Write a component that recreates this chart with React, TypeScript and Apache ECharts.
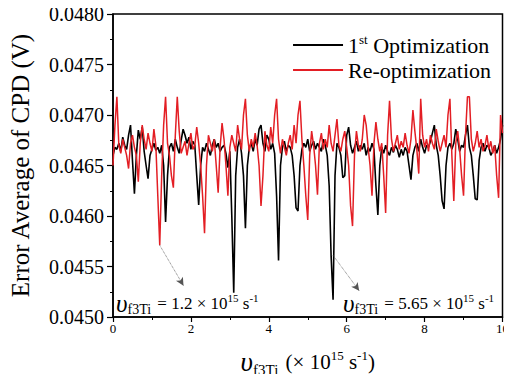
import React, { useEffect, useRef } from "react";
import * as echarts from "echarts";

// sampling of the frequency axis (×10^15 s^-1)
const X_START = 0;
const X_STEP = 0.05;

// 1st Optimization (V)
const firstOpt = [
  0.04660, 0.04668, 0.04666, 0.04672, 0.04664, 0.04678, 0.04670, 0.04666, 0.04680, 0.04690,
  0.04655, 0.04622, 0.04660, 0.04685, 0.04676, 0.04688, 0.04664, 0.04650, 0.04637, 0.04660,
  0.04666, 0.04672, 0.04665, 0.04668, 0.04662, 0.04670, 0.04650, 0.04594, 0.04640, 0.04668,
  0.04672, 0.04664, 0.04676, 0.04668, 0.04662, 0.04675, 0.04686, 0.04680, 0.04672, 0.04678,
  0.04666, 0.04674, 0.04670, 0.04640, 0.04611, 0.04650, 0.04668, 0.04664, 0.04672, 0.04666,
  0.04660, 0.04670, 0.04676, 0.04668, 0.04672, 0.04664, 0.04668, 0.04670, 0.04662, 0.04648,
  0.04664, 0.04600, 0.04524, 0.04640, 0.04668, 0.04676, 0.04662, 0.04640, 0.04588, 0.04650,
  0.04668, 0.04672, 0.04664, 0.04676, 0.04670, 0.04686, 0.04690, 0.04672, 0.04664, 0.04680,
  0.04676, 0.04666, 0.04672, 0.04662, 0.04620, 0.04556, 0.04650, 0.04668, 0.04674, 0.04664,
  0.04670, 0.04668, 0.04660, 0.04640, 0.04608, 0.04605, 0.04650, 0.04666, 0.04672, 0.04668,
  0.04676, 0.04664, 0.04670, 0.04674, 0.04666, 0.04672, 0.04668, 0.04664, 0.04676, 0.04670,
  0.04660, 0.04630, 0.04560, 0.04517, 0.04640, 0.04672, 0.04668, 0.04660, 0.04638, 0.04640,
  0.04680, 0.04688, 0.04670, 0.04662, 0.04668, 0.04674, 0.04664, 0.04670, 0.04666, 0.04672,
  0.04660, 0.04668, 0.04664, 0.04672, 0.04666, 0.04630, 0.04601, 0.04650, 0.04668, 0.04662,
  0.04670, 0.04664, 0.04660, 0.04668, 0.04663, 0.04670, 0.04666, 0.04658, 0.04666, 0.04660,
  0.04668, 0.04664, 0.04650, 0.04636, 0.04660, 0.04668, 0.04672, 0.04664, 0.04676, 0.04668,
  0.04662, 0.04670, 0.04668, 0.04674, 0.04682, 0.04690, 0.04670, 0.04660, 0.04640, 0.04615,
  0.04607, 0.04650, 0.04668, 0.04672, 0.04666, 0.04672, 0.04686, 0.04676, 0.04664, 0.04670,
  0.04668, 0.04680, 0.04690, 0.04668, 0.04660, 0.04640, 0.04617, 0.04616, 0.04655, 0.04668,
  0.04672, 0.04664, 0.04670, 0.04668, 0.04660, 0.04664, 0.04670, 0.04662, 0.04668, 0.04676,
  0.04690,
];

// Re-optimization (V)
const reOpt = [
  0.04650, 0.04690, 0.04718, 0.04670, 0.04662, 0.04676, 0.04668, 0.04660, 0.04647, 0.04672,
  0.04680, 0.04668, 0.04660, 0.04634, 0.04672, 0.04690, 0.04676, 0.04666, 0.04682, 0.04672,
  0.04664, 0.04686, 0.04670, 0.04620, 0.04571, 0.04640, 0.04690, 0.04718, 0.04672, 0.04660,
  0.04640, 0.04628, 0.04680, 0.04718, 0.04684, 0.04662, 0.04668, 0.04674, 0.04660, 0.04672,
  0.04682, 0.04666, 0.04670, 0.04688, 0.04672, 0.04650, 0.04620, 0.04583, 0.04650, 0.04680,
  0.04672, 0.04664, 0.04676, 0.04650, 0.04623, 0.04668, 0.04692, 0.04676, 0.04650, 0.04620,
  0.04668, 0.04680, 0.04672, 0.04664, 0.04690, 0.04676, 0.04666, 0.04700, 0.04716, 0.04680,
  0.04664, 0.04676, 0.04668, 0.04682, 0.04670, 0.04650, 0.04610, 0.04640, 0.04684, 0.04670,
  0.04664, 0.04688, 0.04672, 0.04700, 0.04716, 0.04676, 0.04662, 0.04676, 0.04668, 0.04660,
  0.04672, 0.04680, 0.04666, 0.04690, 0.04672, 0.04700, 0.04714, 0.04676, 0.04650, 0.04620,
  0.04596, 0.04660, 0.04684, 0.04670, 0.04650, 0.04621, 0.04672, 0.04682, 0.04666, 0.04676,
  0.04668, 0.04690, 0.04672, 0.04664, 0.04680, 0.04696, 0.04670, 0.04664, 0.04676, 0.04684,
  0.04668, 0.04650, 0.04610, 0.04590, 0.04660, 0.04684, 0.04670, 0.04664, 0.04676, 0.04700,
  0.04690, 0.04668, 0.04650, 0.04620, 0.04672, 0.04693, 0.04676, 0.04664, 0.04672, 0.04640,
  0.04603, 0.04680, 0.04714, 0.04676, 0.04664, 0.04672, 0.04680, 0.04666, 0.04674, 0.04668,
  0.04682, 0.04670, 0.04662, 0.04676, 0.04705, 0.04684, 0.04666, 0.04642, 0.04716, 0.04680,
  0.04668, 0.04676, 0.04664, 0.04680, 0.04672, 0.04666, 0.04686, 0.04674, 0.04664, 0.04672,
  0.04680, 0.04668, 0.04700, 0.04716, 0.04660, 0.04615, 0.04672, 0.04684, 0.04666, 0.04640,
  0.04620, 0.04680, 0.04718, 0.04718, 0.04676, 0.04664, 0.04672, 0.04684, 0.04668, 0.04676,
  0.04664, 0.04670, 0.04680, 0.04666, 0.04674, 0.04662, 0.04670, 0.04640, 0.04618, 0.04700,
  0.04682,
];

const SERIES_NAMES = ["1st Optimization", "Re-optimization"];
const Y_MIN = 0.045;
const Y_MAX = 0.048;
const Y_STEP = 0.0005;
const X_MIN = 0;
const X_MAX = 10;
const X_TICK = 2;

// annotated minima: [x, y] of the dip, and [x, y] of the arrow end
const arrow1 = [[1.2, 0.04571], [1.81, 0.04531]];
const arrow2 = [[5.65, 0.04561], [6.32, 0.04526]];
const note1 = "1.2";
const note2 = "5.65";

const FONT = "Liberation Serif";

const toPairs = (arr: number[]) => arr.map((v, i) => [X_START + i * X_STEP, v]);

const noteRich = {
  u: { fontFamily: FONT, fontStyle: "italic", fontSize: 25, lineHeight: 26, verticalAlign: "middle", color: "#000" },
  s: { fontFamily: FONT, fontSize: 14, lineHeight: 26, verticalAlign: "bottom", color: "#000", padding: [0, 2, 0, 0] },
  t: { fontFamily: FONT, fontSize: 17, lineHeight: 26, verticalAlign: "middle", color: "#000" },
  p: { fontFamily: FONT, fontSize: 11, lineHeight: 26, verticalAlign: "top", color: "#000", padding: [2, 0, 0, 0] },
};

const noteText = (v: string) => `{u|υ}{s|f3Ti}{t| = ${v} × 10}{p|15}{t| s}{p|-1}`;

export default function App() {
  const ref = useRef<HTMLDivElement>(null);
  useEffect(() => {
    if (!ref.current) return;
    const chart = echarts.init(ref.current, undefined, { renderer: "svg" });
    const arrowLine = (a: number[][]) => [{ coord: a[0] }, { coord: a[1] }];
    chart.setOption({
      animation: false,
      backgroundColor: "#fff",
      textStyle: { fontFamily: FONT },
      grid: {
        left: 111,
        right: 4,
        top: 14,
        bottom: 62,
        show: true,
        borderColor: "#000",
        borderWidth: 1.5,
      },
      legend: {
        orient: "vertical",
        right: 16,
        top: 28,
        itemWidth: 50,
        itemHeight: 2,
        itemGap: 1,
        icon: "rect",
        data: SERIES_NAMES,
        textStyle: {
          fontFamily: FONT,
          fontSize: 22,
          color: "#000",
          lineHeight: 24,
          rich: {
            n: { fontFamily: FONT, fontSize: 22, color: "#000", lineHeight: 24, verticalAlign: "middle" },
            sup: { fontFamily: FONT, fontSize: 13, color: "#000", lineHeight: 24, verticalAlign: "top" },
          },
        },
        formatter: (name: string) =>
          name === SERIES_NAMES[0] ? "{n|1}{sup|st}{n| Optimization}" : `{n|${name}}`,
      },
      xAxis: {
        type: "value",
        min: X_MIN,
        max: X_MAX,
        interval: X_TICK,
        name: "{u|υ}{s|f3Ti}{t| (× 10}{p|15}{t| s}{p|-1}{t|)}",
        nameLocation: "middle",
        nameGap: 30,
        nameTextStyle: {
          fontFamily: FONT,
          rich: {
            u: { fontFamily: FONT, fontStyle: "italic", fontSize: 27, lineHeight: 30, verticalAlign: "middle", color: "#000" },
            s: { fontFamily: FONT, fontSize: 15, lineHeight: 30, verticalAlign: "bottom", color: "#000", padding: [0, 2, 0, 0] },
            t: { fontFamily: FONT, fontSize: 21, lineHeight: 30, verticalAlign: "middle", color: "#000" },
            p: { fontFamily: FONT, fontSize: 13, lineHeight: 30, verticalAlign: "top", color: "#000", padding: [2, 0, 0, 0] },
          },
        },
        axisLine: { show: true, lineStyle: { color: "#000", width: 1.5 } },
        axisTick: { show: true, inside: false, length: 5, lineStyle: { color: "#000", width: 1.2 } },
        minorTick: { show: true, splitNumber: 2, length: 3, lineStyle: { color: "#000", width: 1 } },
        splitLine: { show: false },
        axisLabel: { fontFamily: FONT, fontSize: 13, color: "#000", margin: 5 },
      },
      yAxis: {
        type: "value",
        min: Y_MIN,
        max: Y_MAX,
        interval: Y_STEP,
        name: "Error Average of CPD (V)",
        nameLocation: "middle",
        nameGap: 80,
        nameRotate: 90,
        nameTextStyle: { fontFamily: FONT, fontSize: 25, color: "#000" },
        axisLine: { show: true, lineStyle: { color: "#000", width: 1.5 } },
        axisTick: { show: true, inside: false, length: 6, lineStyle: { color: "#000", width: 1.2 } },
        minorTick: { show: true, splitNumber: 2, length: 3, lineStyle: { color: "#000", width: 1 } },
        splitLine: { show: false },
        axisLabel: {
          fontFamily: FONT,
          fontSize: 20,
          color: "#000",
          margin: 9,
          formatter: (v: number) => v.toFixed(4),
        },
      },
      series: [
        {
          name: SERIES_NAMES[0],
          type: "line",
          data: toPairs(firstOpt),
          showSymbol: false,
          color: "#000",
          lineStyle: { color: "#000", width: 1.6 },
          z: 2,
          markLine: {
            silent: true,
            symbol: ["none", "arrow"],
            symbolSize: [6, 8],
            label: { show: false },
            lineStyle: { color: "#555", width: 0.8, type: "dotted" },
            data: [arrowLine(arrow1), arrowLine(arrow2)],
          },
        },
        {
          name: SERIES_NAMES[1],
          type: "line",
          data: toPairs(reOpt),
          showSymbol: false,
          color: "#e31e24",
          lineStyle: { color: "#e31e24", width: 1.5 },
          z: 3,
        },
      ],
      graphic: [
        {
          type: "text",
          x: 116,
          y: 290,
          z: 10,
          style: { text: noteText(note1), rich: noteRich, fontFamily: FONT },
        },
        {
          type: "text",
          x: 343,
          y: 290,
          z: 10,
          style: { text: noteText(note2), rich: noteRich, fontFamily: FONT },
        },
      ],
    });
    return () => chart.dispose();
  }, []);
  return <div ref={ref} style={{ width: 512, height: 382, margin: -8 }} />;
}
